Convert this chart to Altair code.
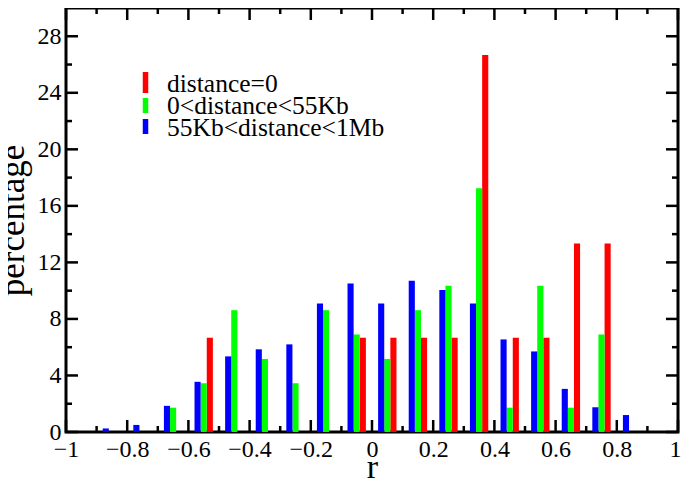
import altair as alt
import pandas as pd

# ---- data ----
bin_centers = [-0.95, -0.85, -0.75, -0.65, -0.55, -0.45, -0.35, -0.25, -0.15, -0.05,
               0.05, 0.15, 0.25, 0.35, 0.45, 0.55, 0.65, 0.75, 0.85, 0.95]
series_names = ["distance=0", "0<distance<55Kb", "55Kb<distance<1Mb"]
red_vals = [0, 0, 0, 0, 6.67, 0, 0, 0, 0, 6.67,
            6.67, 6.67, 6.67, 26.67, 6.67, 6.67, 13.33, 13.33, 0, 0]
green_vals = [0, 0, 0, 1.72, 3.45, 8.62, 5.17, 3.45, 8.62, 6.9,
              5.17, 8.62, 10.34, 17.24, 1.72, 10.34, 1.72, 6.9, 0, 0]
blue_vals = [0, 0.25, 0.5, 1.85, 3.55, 5.35, 5.85, 6.2, 9.1, 10.5,
             9.1, 10.7, 10.05, 9.1, 6.55, 5.7, 3.05, 1.75, 1.2, 0]
x_tick_labels = [-1, -0.8, -0.6, -0.4, -0.2, 0, 0.2, 0.4, 0.6, 0.8, 1]
x_minor_ticks = [-0.9, -0.7, -0.5, -0.3, -0.1, 0.1, 0.3, 0.5, 0.7, 0.9]
y_tick_labels = [0, 4, 8, 12, 16, 20, 24, 28]
y_minor_ticks = [2, 6, 10, 14, 18, 22, 26]

# ---- styling ----
colors = ["#ff0000", "#00ff00", "#0000ff"]
offsets = {"distance=0": 0.02, "0<distance<55Kb": 0.0, "55Kb<distance<1Mb": -0.02}
half_bar = 0.01
W, H = 612, 424
FONT = "'Liberation Serif', 'Times New Roman', Times, serif"
# legend layout (pixels inside the plot area): symbol top/bottom, text baseline
legend_symbol_x = 79.5
legend_text_x = 101
legend_rows = [(64, 85, 84), (90, 105, 106), (111, 126, 128)]

rows = []
for name, vals in zip(series_names, [red_vals, green_vals, blue_vals]):
    for c, v in zip(bin_centers, vals):
        if v > 0:
            rows.append({"series": name,
                         "x0": c + offsets[name] - half_bar,
                         "x1": c + offsets[name] + half_bar,
                         "val": v, "base": 0})
bars_df = pd.DataFrame(rows)

xscale = alt.Scale(domain=[-1, 1], nice=False, zero=False)
yscale = alt.Scale(domain=[0, 30], nice=False)

xaxis = alt.Axis(values=x_tick_labels, format="~g", title="r", grid=False,
                 domain=False, ticks=False, labelFont=FONT, labelFontSize=24,
                 labelColor="black", labelPadding=5, labelFlush=False,
                 labelOverlap=False,
                 labelOffset={"condition": {"test": "datum.value == 1", "value": -3},
                              "value": 0},
                 titleFont=FONT, titleFontSize=34,
                 titleFontWeight="normal", titleColor="black",
                 titleBaseline="alphabetic", titleY=45)
yaxis = alt.Axis(values=y_tick_labels, format="d", title="percentage", grid=False,
                 domain=False, ticks=False, labelFont=FONT, labelFontSize=24,
                 labelColor="black", labelPadding=5, labelFlush=False,
                 labelOverlap=False, titleFont=FONT, titleFontSize=35,
                 titleFontWeight="normal", titleColor="black",
                 titleBaseline="alphabetic", titleAlign="center",
                 titleAngle=270, titleX=-43, titleY=H / 2)

bars = alt.Chart(bars_df).mark_bar(strokeWidth=0).encode(
    x=alt.X("x0:Q", scale=xscale, axis=xaxis, title="r"),
    x2="x1:Q",
    y=alt.Y("val:Q", scale=yscale, axis=yaxis, title="percentage"),
    y2="base:Q",
    color=alt.Color("series:N", sort=series_names,
                    scale=alt.Scale(domain=series_names, range=colors),
                    legend=None),
)

xmaj = pd.DataFrame({"v": x_tick_labels})
xmin = pd.DataFrame({"v": x_minor_ticks})
ymaj = pd.DataFrame({"v": y_tick_labels})
ymin = pd.DataFrame({"v": y_minor_ticks})

def xticks(df, length):
    b = alt.Chart(df).mark_rule(color="black", strokeWidth=2.5).encode(
        x=alt.X("v:Q", scale=xscale, axis=xaxis, title="r"),
        y=alt.value(H), y2=alt.value(H - length))
    t = alt.Chart(df).mark_rule(color="black", strokeWidth=2.5).encode(
        x=alt.X("v:Q", scale=xscale, axis=xaxis, title="r"),
        y=alt.value(0), y2=alt.value(length))
    return [b, t]

def yticks(df, length):
    l = alt.Chart(df).mark_rule(color="black", strokeWidth=2.5).encode(
        y=alt.Y("v:Q", scale=yscale, axis=yaxis, title="percentage"),
        x=alt.value(0), x2=alt.value(length))
    r = alt.Chart(df).mark_rule(color="black", strokeWidth=2.5).encode(
        y=alt.Y("v:Q", scale=yscale, axis=yaxis, title="percentage"),
        x=alt.value(W), x2=alt.value(W - length))
    return [l, r]

legend_layers = []
for name, col, (top, bot, base) in zip(series_names, colors, legend_rows):
    ldf = pd.DataFrame({"series": [name]})
    legend_layers.append(
        alt.Chart(ldf).mark_rule(color=col, strokeWidth=5.5).encode(
            x=alt.value(legend_symbol_x), y=alt.value(top), y2=alt.value(bot)))
    legend_layers.append(
        alt.Chart(ldf).mark_text(font=FONT, fontSize=25.5, color="black", align="left",
                                 baseline="alphabetic").encode(
            x=alt.value(legend_text_x), y=alt.value(base), text="series:N"))

layers = ([bars] + xticks(xmaj, 12) + xticks(xmin, 6) + yticks(ymaj, 12)
          + yticks(ymin, 6) + legend_layers)

chart = alt.layer(*layers).properties(
    width=W, height=H,
    autosize=alt.AutoSizeParams(type="none"),
    padding={"left": 58, "top": 0, "right": 3, "bottom": 46},
).configure(background="white").configure_view(stroke="black", strokeWidth=3)

chart.save("out.html", embed_options={"renderer": "svg", "actions": False})
